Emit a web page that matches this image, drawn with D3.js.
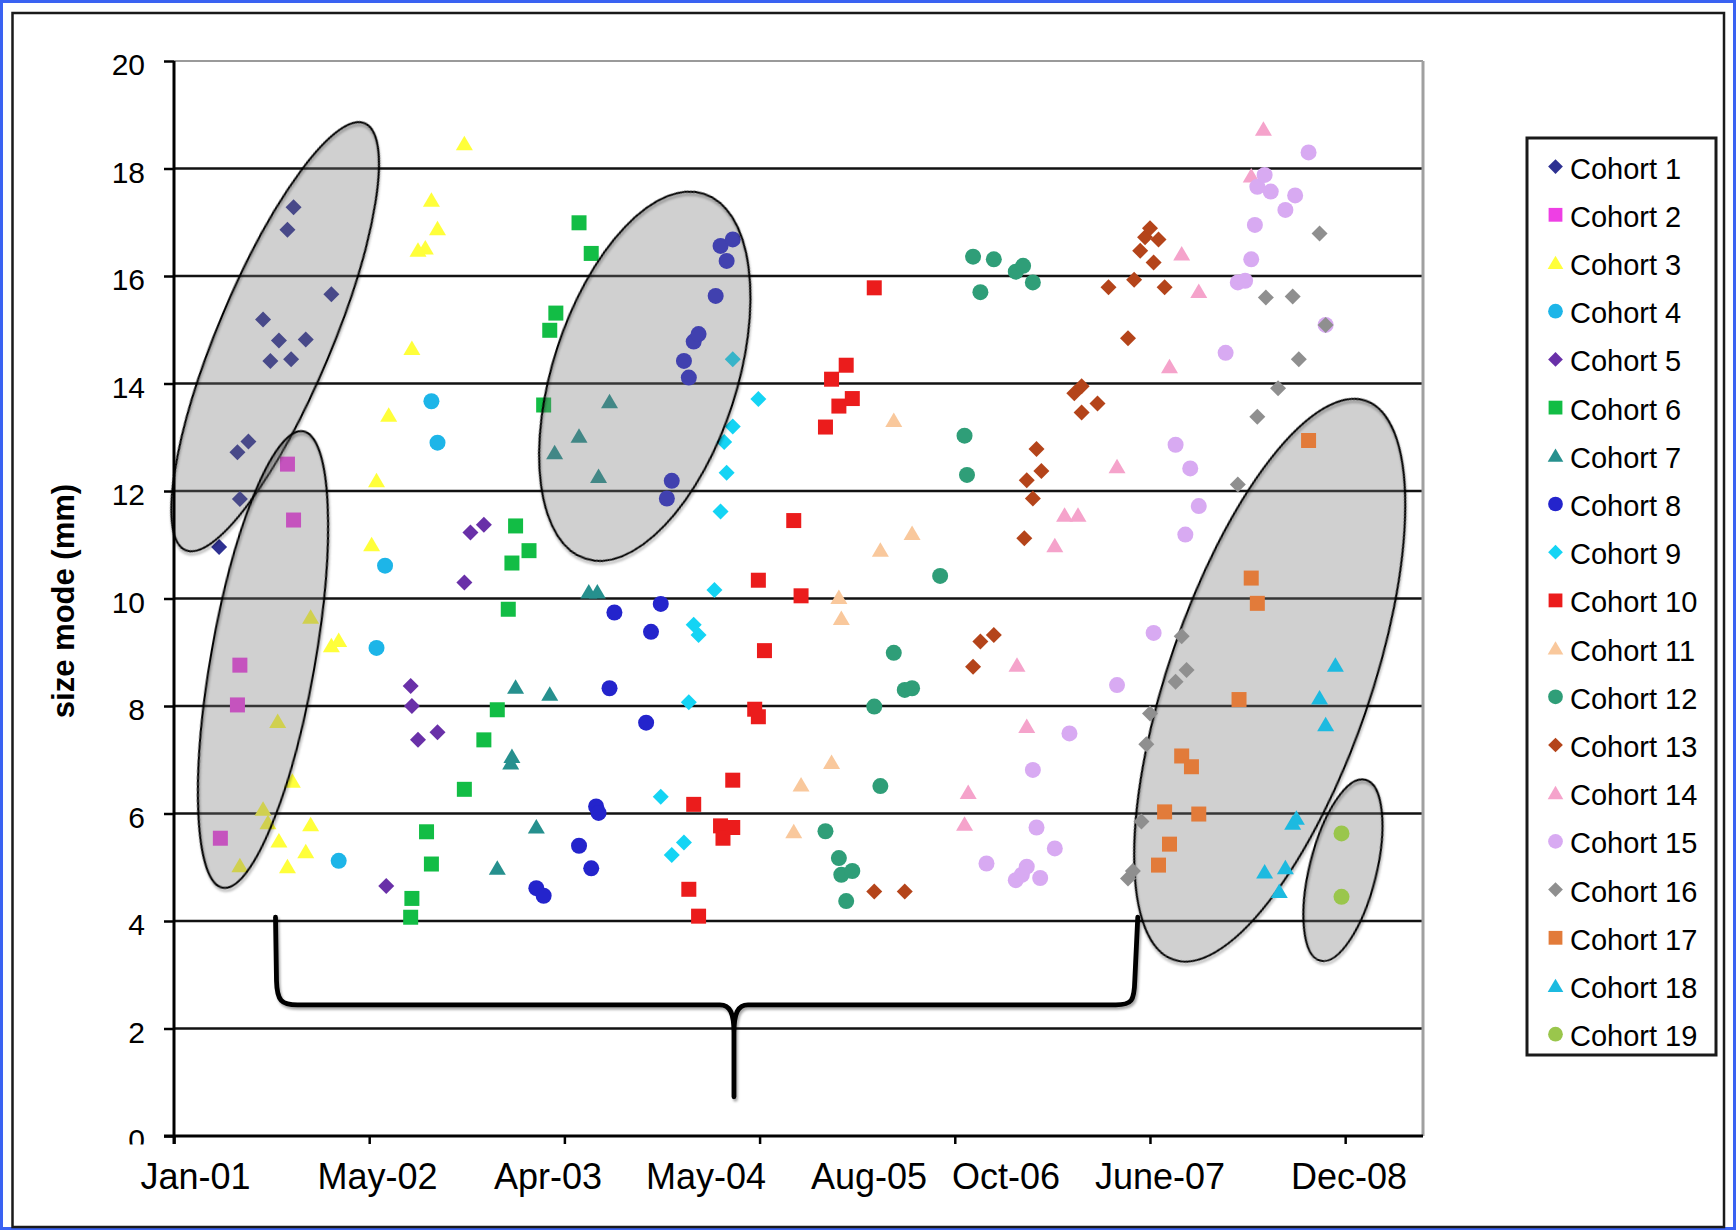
<!DOCTYPE html>
<html>
<head>
<meta charset="utf-8">
<script src="https://cdn.jsdelivr.net/npm/d3@7/dist/d3.min.js"></script>
<style>
  html, body { margin: 0; padding: 0; background: #fff; }
  svg { display: block; }
  text { font-family: "Liberation Sans", Arial, Helvetica, sans-serif; fill: #000; }
</style>
</head>
<body>
<svg id="chart" width="1736" height="1230"></svg>
<script>
// Size-mode observations per cohort: [months since Jan 2001, size mode (mm)]
const cohort1  = [[3.7,10.96],[5.2,12.72],[5.4,11.85],[6.1,12.92],[7.3,15.19],[7.9,14.42],[8.6,14.80],[9.3,16.86],[9.6,14.45],[9.8,17.28],[10.8,14.82],[12.9,15.66]];
const cohort2  = [[3.8,5.54],[5.2,8.02],[5.4,8.76],[9.3,12.50],[9.8,11.46]];
const cohort3  = [[5.4,5.03],[7.3,6.08],[7.7,5.83],[8.5,7.71],[8.6,5.49],[9.3,5.01],[9.7,6.60],[10.8,5.29],[11.2,9.65],[11.2,5.79],[12.9,9.12],[13.5,9.22],[16.2,11.0],[16.6,12.19],[17.6,13.41],[19.5,14.65],[20.0,16.48],[20.6,16.52],[21.1,17.41],[21.6,16.88],[23.8,18.46]];
const cohort4  = [[13.5,5.12],[16.6,9.08],[17.3,10.61],[21.1,13.67],[21.6,12.90]];
const cohort5  = [[17.4,4.65],[19.4,8.37],[19.5,8.0],[20.0,7.37],[21.6,7.51],[23.8,10.30],[24.3,11.23],[25.4,11.37]];
const cohort6  = [[19.4,4.07],[19.5,4.42],[20.7,5.66],[21.1,5.06],[23.8,6.45],[25.4,7.37],[26.5,7.93],[27.4,9.80],[27.7,10.66],[28.0,11.35],[29.1,10.89],[30.3,13.60],[30.8,14.99],[31.3,15.31],[33.2,16.99],[34.2,16.42]];
const cohort7  = [[26.5,4.98],[27.6,6.94],[27.7,7.06],[28.0,8.35],[29.7,5.75],[30.8,8.22],[31.2,12.71],[33.2,13.02],[34.0,10.12],[34.7,10.12],[34.8,12.27],[35.7,13.66]];
const cohort8  = [[29.7,4.61],[30.3,4.47],[33.2,5.40],[34.2,4.98],[34.6,6.13],[34.8,6.01],[35.7,8.33],[36.1,9.74],[38.7,7.69],[39.1,9.38],[39.9,9.90],[40.4,11.86],[40.8,12.19],[41.8,14.42],[42.2,14.11],[42.6,14.78],[43.0,14.92],[44.4,15.63],[44.8,16.56],[45.3,16.28],[45.8,16.68]];
const cohort9  = [[39.9,6.31],[40.8,5.23],[41.8,5.46],[42.2,8.07],[42.6,9.51],[43.0,9.32],[44.3,10.16],[44.8,11.62],[45.1,12.91],[45.3,12.34],[45.8,13.20],[45.8,14.45],[47.9,13.71]];
const cohort10 = [[42.2,4.59],[42.6,6.17],[43.0,4.09],[44.8,5.77],[45.0,5.54],[45.8,5.74],[45.8,6.62],[47.6,7.94],[47.9,7.80],[47.9,10.34],[48.4,9.03],[50.8,11.45],[51.4,10.05],[53.4,13.19],[53.9,14.08],[54.5,13.58],[55.1,14.34],[55.6,13.72],[57.4,15.78]];
const cohort11 = [[50.8,5.66],[51.4,6.53],[53.9,6.95],[54.5,10.02],[54.7,9.63],[57.9,10.90],[59.0,13.31],[60.5,11.21]];
const cohort12 = [[53.4,5.67],[54.5,5.17],[54.7,4.86],[55.1,4.37],[55.6,4.93],[57.4,7.99],[57.9,6.51],[59.0,8.99],[59.9,8.30],[60.5,8.33],[62.8,10.42],[64.8,13.03],[65.0,12.30],[65.5,16.36],[66.1,15.70],[67.2,16.31],[69.0,16.08],[69.6,16.19],[70.4,15.88]];
const cohort13 = [[57.4,4.55],[59.9,4.55],[65.5,8.73],[66.1,9.20],[67.2,9.32],[69.7,11.12],[69.9,12.20],[70.4,11.86],[70.7,12.78],[71.1,12.37],[73.8,13.82],[74.4,13.95],[74.4,13.46],[75.7,13.63],[76.6,15.79],[78.2,14.84],[78.7,15.93],[79.2,16.47],[79.6,16.72],[80.0,16.89],[80.3,16.25],[80.7,16.68],[81.2,15.79]];
const cohort14 = [[64.8,5.80],[65.1,6.39],[69.1,8.76],[69.9,7.62],[72.2,10.98],[73.0,11.55],[74.1,11.55],[77.3,12.45],[81.6,14.31],[82.6,16.41],[84.0,15.71],[88.3,17.86],[89.3,18.73]];
const cohort15 = [[66.6,5.07],[69.0,4.76],[69.5,4.86],[69.9,5.01],[70.4,6.81],[70.7,5.74],[71.0,4.80],[72.2,5.35],[73.4,7.49],[77.3,8.39],[80.3,9.36],[82.1,12.86],[82.9,11.19],[83.3,12.42],[84.0,11.72],[86.2,14.57],[87.2,15.88],[87.8,15.91],[88.3,16.31],[88.6,16.95],[88.8,17.66],[89.4,17.88],[89.9,17.57],[91.1,17.23],[91.9,17.50],[93.0,18.30],[94.4,15.09]];
const cohort16 = [[78.2,4.79],[78.6,4.93],[79.3,5.85],[79.7,7.29],[80.0,7.86],[82.1,8.45],[82.6,9.30],[83.0,8.67],[87.2,12.12],[88.8,13.38],[90.5,13.91],[89.5,15.60],[91.7,15.62],[92.2,14.45],[93.9,16.79],[94.4,15.09]];
const cohort17 = [[80.7,5.04],[81.2,6.03],[81.6,5.43],[82.6,7.07],[83.4,6.87],[84.0,5.99],[87.3,8.12],[88.3,10.38],[88.8,9.91],[93.0,12.94]];
const cohort18 = [[89.4,4.91],[90.6,4.55],[91.1,4.99],[91.7,5.82],[92.0,5.91],[93.9,8.15],[94.4,7.65],[95.2,8.76]];
const cohort19 = [[95.7,5.63],[95.7,4.45]];

const cohortNames = ["Cohort 1","Cohort 2","Cohort 3","Cohort 4","Cohort 5","Cohort 6","Cohort 7","Cohort 8","Cohort 9","Cohort 10",
                     "Cohort 11","Cohort 12","Cohort 13","Cohort 14","Cohort 15","Cohort 16","Cohort 17","Cohort 18","Cohort 19"];
const cohortValues = [cohort1,cohort2,cohort3,cohort4,cohort5,cohort6,cohort7,cohort8,cohort9,cohort10,
                      cohort11,cohort12,cohort13,cohort14,cohort15,cohort16,cohort17,cohort18,cohort19];

// Axis ticks and the hand-placed date labels (label centres in months since Jan 2001)
const yTicks = [0,2,4,6,8,10,12,14,16,18,20];
const xTickMonths = [0,16,32,48,64,80,96];
const xLabelText  = ["Jan-01","May-02","Apr-03","May-04","Aug-05","Oct-06","June-07","Dec-08"];
const xLabelMonth = [1.76,16.68,30.66,43.61,56.97,68.2,80.82,96.31];

// Highlight ellipses: major-axis end points [month, mm]; "over" = drawn above the markers
const groupEllipses = [
  { top:[15.63,18.84], bottom:[0.95,10.9],  halfWidth:57,  over:true  },
  { top:[10.59,13.11], bottom:[4.0,4.62],   halfWidth:52,  over:true  },
  { top:[43.45,17.53], bottom:[33.73,10.74],halfWidth:92,  over:true  },
  { top:[97.7,13.68],  bottom:[81.93,3.28], halfWidth:101, over:false },
  { top:[97.66,6.63],  bottom:[93.97,3.26], halfWidth:33.5,over:false }
];
// Curly brace spanning the middle cohorts: arm ends, bar level and tip, in [month, mm]
const braceSpan = { left:8.32, right:79.0, armTop:4.07, bar:2.44, tipMonth:45.9, tip:0.73 };

// ---- styling ----
const colors = ["#2E3192","#EE3FE4","#FFFF3A","#1DB5E8","#6930A8","#12BD45","#26908E","#2424CC","#14D4F4","#EB1C1C",
                "#F9C89C","#2F9E78","#B4441A","#F5A3CB","#D8AAF2","#8F8F8F","#E27B3A","#1CBAE0","#9AC64C"];
const shapes = ["diamond","square","triangle","circle","diamond","square","triangle","circle","diamond","square",
                "triangle","circle","diamond","triangle","circle","diamond","square","triangle","circle"];

function shapePath(kind, k) {
  k = k || 1;
  switch (kind) {
    case "diamond":  { const h = 8*k; return `M0,${-h}L${h},0L0,${h}L${-h},0Z`; }
    case "square":   { const h = 7.5*k; return `M${-h},${-h}H${h}V${h}H${-h}Z`; }
    case "triangle": { const w = 8.5*k, t = 8*k, b = 6.5*k; return `M0,${-t}L${w},${b}L${-w},${b}Z`; }
    default:         { const r = 8*k; return `M${r},0A${r},${r} 0 1,1 ${-r},0A${r},${r} 0 1,1 ${r},0Z`; }
  }
}

const svg = d3.select("#chart");
const W = 1736, H = 1230;
const plot = { left:174, right:1423, top:61, bottom:1136 };

const x = d3.scaleLinear().domain([0, 102.38]).range([plot.left, plot.right]);
const y = d3.scaleLinear().domain([0, 20]).range([plot.bottom, plot.top]);

const defs = svg.append("defs");
const sh = defs.append("filter").attr("id","soft").attr("x","-10%").attr("y","-10%").attr("width","120%").attr("height","120%");
sh.append("feDropShadow").attr("dx",1.5).attr("dy",2.5).attr("stdDeviation",1.2)
  .attr("flood-color","#000").attr("flood-opacity",0.35);

// background and frames
svg.append("rect").attr("width",W).attr("height",H).attr("fill","#fff");
svg.append("rect").attr("x",1.5).attr("y",1.5).attr("width",W-3).attr("height",H-3)
  .attr("fill","none").attr("stroke","#3A62F2").attr("stroke-width",3);
svg.append("rect").attr("x",12.5).attr("y",13).attr("width",1711.5).attr("height",1214)
  .attr("fill","none").attr("stroke","#1a1a1a").attr("stroke-width",2.5);

// gridlines
svg.append("g").selectAll("line").data(yTicks.filter(v => v > 0 && v < 20)).join("line")
  .attr("x1",plot.left).attr("x2",plot.right)
  .attr("y1",d => y(d)).attr("y2",d => y(d))
  .attr("stroke","#121212").attr("stroke-width",2.5);
// plot-area border (top and right)
svg.append("line").attr("x1",plot.left).attr("x2",plot.right).attr("y1",y(20)).attr("y2",y(20))
  .attr("stroke","#9a9a9a").attr("stroke-width",2);
svg.append("line").attr("x1",plot.right).attr("x2",plot.right).attr("y1",y(20)).attr("y2",y(0))
  .attr("stroke","#a0a0a0").attr("stroke-width",3);

function drawEllipse(g, e) {
  const p1 = [x(e.top[0]), y(e.top[1])], p2 = [x(e.bottom[0]), y(e.bottom[1])];
  const cx = (p1[0]+p2[0])/2, cy = (p1[1]+p2[1])/2;
  const ry = Math.hypot(p1[0]-p2[0], p1[1]-p2[1]) / 2;
  const ang = Math.atan2(p1[0]-p2[0], p2[1]-p1[1]) * 180 / Math.PI;
  const tr = `translate(${cx},${cy}) rotate(${ang})`;
  g.append("ellipse").attr("transform",tr).attr("rx",e.halfWidth).attr("ry",ry)
    .attr("fill","rgb(121,121,121)").attr("fill-opacity",0.35).attr("stroke","none");
  g.append("ellipse").attr("transform",tr).attr("rx",e.halfWidth).attr("ry",ry)
    .attr("fill","none").attr("stroke","#000").attr("stroke-width",2).attr("filter","url(#soft)");
}

// ellipses that sit beneath the markers
const under = svg.append("g");
groupEllipses.filter(e => !e.over).forEach(e => drawEllipse(under, e));

// markers
const marks = svg.append("g");
cohortValues.forEach((pts, i) => {
  marks.append("g").selectAll("path").data(pts).join("path")
    .attr("d", shapePath(shapes[i]))
    .attr("transform", d => `translate(${x(d[0])},${y(d[1])})`)
    .attr("fill", colors[i]);
});

// ellipses laid over the markers
const over = svg.append("g");
groupEllipses.filter(e => e.over).forEach(e => drawEllipse(over, e));

// curly brace
{
  const xl = x(braceSpan.left), xr = x(braceSpan.right), xt = x(braceSpan.tipMonth);
  const yt = y(braceSpan.armTop), yb = y(braceSpan.bar), yp = y(braceSpan.tip);
  const r = 16;
  const d = `M${xl},${yt} L${xl+1},${yb-r-8} C${xl+1.5},${yb-4} ${xl+6},${yb} ${xl+r+6},${yb} L${xt-14},${yb}` +
            ` C${xt-4},${yb} ${xt},${yb+8} ${xt},${yb+28} L${xt},${yp}` +
            ` M${xt},${yb+28} C${xt},${yb+8} ${xt+4},${yb} ${xt+14},${yb} L${xr-r-6},${yb}` +
            ` C${xr-6},${yb} ${xr-3.5},${yb-4} ${xr-3},${yb-r-8} L${xr},${yt}`;
  svg.append("path").attr("d",d).attr("fill","none").attr("stroke","#000")
    .attr("stroke-width",4.8).attr("stroke-linecap","round").attr("stroke-linejoin","round")
    .attr("filter","url(#soft)");
}

// y axis
const yAxis = d3.axisLeft(y).tickValues(yTicks).tickSize(10).tickPadding(19).tickFormat(d3.format("d"));
const gy = svg.append("g").attr("transform",`translate(${plot.left},0)`).call(yAxis);
gy.select(".domain").remove();
gy.selectAll(".tick line").attr("stroke","#000").attr("stroke-width",2.5);
gy.selectAll(".tick text").attr("font-size",30).attr("dy","0.45em")
  .style("font-family","'Liberation Sans', Arial, sans-serif").attr("fill","#111");

// x axis ticks
const xAxis = d3.axisBottom(x).tickValues(xTickMonths).tickSize(8).tickFormat("");
const gx = svg.append("g").attr("transform",`translate(0,${plot.bottom})`).call(xAxis);
gx.select(".domain").remove();
gx.selectAll(".tick line").attr("stroke","#000").attr("stroke-width",2.5);

// axis lines
svg.append("line").attr("x1",plot.left).attr("x2",plot.left).attr("y1",y(20)).attr("y2",plot.bottom+8)
  .attr("stroke","#000").attr("stroke-width",3);
svg.append("line").attr("x1",plot.left-10).attr("x2",plot.right).attr("y1",y(0)).attr("y2",y(0))
  .attr("stroke","#000").attr("stroke-width",3);

// date label box (white background) and labels
svg.append("rect").attr("x",100).attr("y",plot.bottom+8.5).attr("width",1322).attr("height",66).attr("fill","#fff");
svg.append("g").selectAll("text").data(xLabelText).join("text")
  .attr("x",(d,i) => x(xLabelMonth[i])).attr("y",1189)
  .attr("text-anchor","middle").attr("font-size",36).attr("fill","#111")
  .text(d => d);

// y-axis title
svg.append("text").attr("transform","translate(74,601) rotate(-90)")
  .attr("text-anchor","middle").attr("font-size",31).attr("font-weight","bold")
  .text("size mode (mm)");

// legend
const legend = svg.append("g");
legend.append("rect").attr("x",1527).attr("y",138).attr("width",189).attr("height",917)
  .attr("fill","#fff").attr("stroke","#1a1a1a").attr("stroke-width",3);
const items = legend.selectAll("g.item").data(cohortNames).join("g").attr("class","item")
  .attr("transform",(d,i) => `translate(0,${178.6 + i*48.2})`);
items.append("path").attr("d",(d,i) => shapePath(shapes[i], 0.92))
  .attr("transform","translate(1555.5,-12)").attr("fill",(d,i) => colors[i]);
items.append("text").attr("x",1570).attr("y",0).attr("font-size",29).attr("fill","#111").text(d => d);
</script>
</body>
</html>
